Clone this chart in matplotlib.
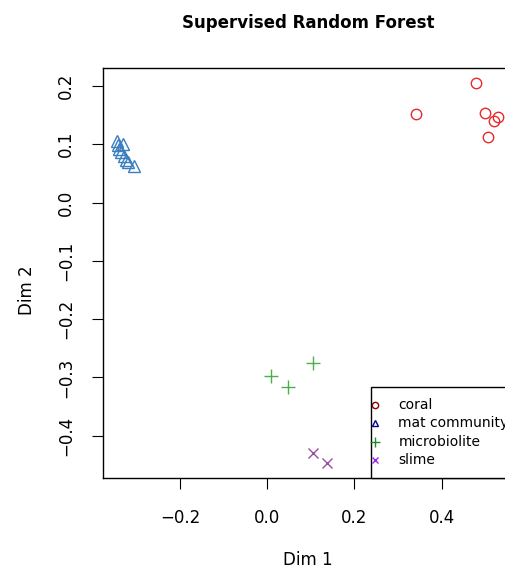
import matplotlib
matplotlib.use('Agg')
import matplotlib.pyplot as plt
from matplotlib.patches import Rectangle

plt.rcParams['font.family'] = ['DejaVu Sans']
plt.rcParams['axes.unicode_minus'] = True

# Data (Dim 1, Dim 2)
coral_x = [0.479, 0.341, 0.500, 0.530, 0.520, 0.506]
coral_y = [0.205, 0.152, 0.153, 0.147, 0.140, 0.113]

mat_x = [-0.345, -0.343, -0.340, -0.336, -0.330, -0.328, -0.324, -0.320, -0.305]
mat_y = [0.105, 0.098, 0.092, 0.087, 0.100, 0.080, 0.073, 0.070, 0.063]

micro_x = [0.009, 0.048, 0.106]
micro_y = [-0.297, -0.316, -0.275]

slime_x = [0.106, 0.138]
slime_y = [-0.430, -0.447]

legend_labels = ['coral', 'mat community', 'microbiolite', 'slime']
xticks = [-0.2, 0.0, 0.2, 0.4]
yticks = [-0.4, -0.3, -0.2, -0.1, 0.0, 0.1, 0.2]

W, H = 506, 574
fig = plt.figure(figsize=(W / 100, H / 100), dpi=100)

# axes box in pixels: left 102.7, right 513.5 (past the image edge), top 68.3, bottom 478
ax = fig.add_axes([102.7 / W, (H - 478) / H, (513.5 - 102.7) / W, (478 - 68.3) / H])

ax.plot(coral_x, coral_y, 'o', ms=7.5, mfc='none', mec='#E8292B', mew=1.0)
ax.plot(mat_x, mat_y, '^', ms=8, mfc='none', mec='#3A7EBD', mew=1.0)
ax.plot(micro_x, micro_y, '+', ms=10, mec='#4DAF4A', mew=1.0)
ax.plot(slime_x, slime_y, 'x', ms=7, mec='#984EA3', mew=1.0)

ax.set_xlim(-0.377, 0.565)
ax.set_ylim(-0.4726, 0.2304)

ax.set_xticks(xticks)
ax.set_xticklabels([f'{v:.1f}'.replace('-', '\u2212') for v in xticks])
ax.set_yticks(yticks)
ax.set_yticklabels([f'{v:.1f}'.replace('-', '\u2212') if v != 0 else '0.0' for v in yticks],
                   rotation=90, va='center')
ax.tick_params(direction='out', length=8, width=0.8, labelsize=12, color='black')
ax.tick_params(axis='x', pad=14)
ax.tick_params(axis='y', pad=12)
for sp in ax.spines.values():
    sp.set_linewidth(1.0)

# legend drawn by hand, bottom right, flush with the axes
ax.add_patch(Rectangle((0.6524, 0.0), 0.5, 0.2228, transform=ax.transAxes,
                       facecolor='white', edgecolor='black', lw=1.0, clip_on=False, zorder=3))
leg_markers = ['o', '^', '+', 'x']
leg_colors = ['#8B0000', '#00008B', '#228B22', '#A020F0']
leg_sizes = [4.5, 5, 7, 5]
leg_y = [0.178, 0.135, 0.0886, 0.0439]
for lab, m, c, s, y in zip(legend_labels, leg_markers, leg_colors, leg_sizes, leg_y):
    ax.plot([0.664], [y], m, ms=s, mfc='none', mec=c, mew=1.0,
            transform=ax.transAxes, clip_on=False, zorder=4)
    ax.text(0.7196, y, lab, transform=ax.transAxes, fontsize=10,
            va='center', ha='left', zorder=4)

fig.text(308 / W, 1 - 28.3 / H, 'Supervised Random Forest', ha='center',
         va='baseline', fontsize=12, fontweight='bold')
fig.text(308 / W, 1 - 565 / H, 'Dim 1', ha='center', va='baseline', fontsize=12)
fig.text(27 / W, 1 - 290 / H, 'Dim 2', ha='center', va='center', fontsize=12, rotation=90)

fig.savefig('out.png', dpi=100)
